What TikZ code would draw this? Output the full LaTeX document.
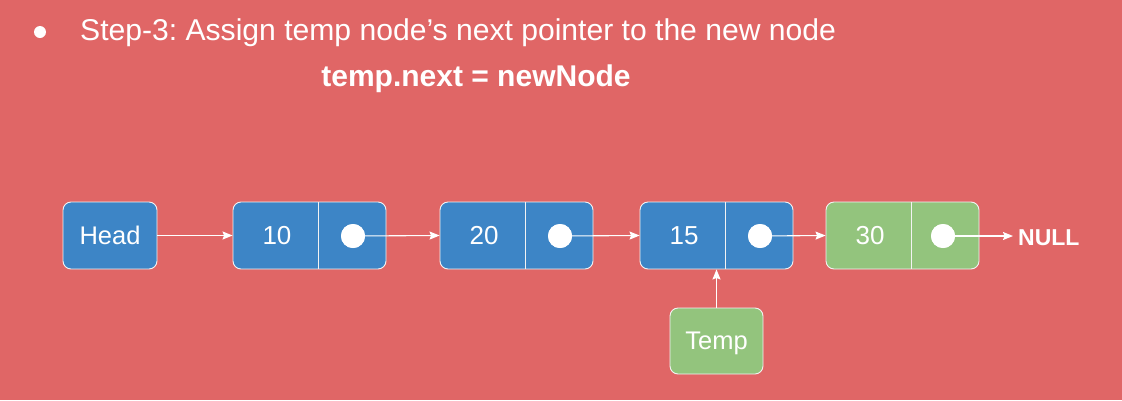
\documentclass[tikz,border=0pt]{standalone}
\usepackage{fontspec}
\setmainfont{Liberation Sans}
\usetikzlibrary{arrows.meta}
\definecolor{bg}{HTML}{E06666}
\definecolor{nblue}{HTML}{3D85C6}
\definecolor{ngreen}{HTML}{93C47D}
\definecolor{edge}{HTML}{F3F3F3}
\tikzset{
  box/.style={draw=edge, line width=0.9pt, rounded corners=8pt, inner sep=0pt, text=white, text depth=0pt, font=\fontsize{25.5}{28}\selectfont},
  listbox/.style={box, minimum width=153pt, minimum height=67pt},
  numtext/.style={text=white, font=\fontsize{26}{28}\selectfont},
  dot/.style={circle, fill=white, inner sep=0pt, minimum size=24pt},
  divider/.style={draw=edge, line width=0.9pt},
  arr/.style={draw=white, line width=1.1pt, -{Stealth[length=10pt,width=8pt,inset=1.5pt]}}
}
\begin{document}
\frenchspacing
\begin{tikzpicture}[x=1pt,y=-1pt]
\useasboundingbox[fill=bg] (0,0) rectangle (1122,400);
% title
\node[circle, fill=white, inner sep=0pt, minimum size=12pt] (bullet) at (40,32) {};
\node[anchor=base west, text=white, font=\fontsize{30.1}{34}\selectfont, inner sep=0pt] (title) at (80,40) {Step-3: Assign temp node’s next pointer to the new node};
\node[anchor=base, text=white, font=\bfseries\fontsize{30}{34}\selectfont, inner sep=0pt] (code) at (476,86) {temp.next = newNode};
% head
\node[box, fill=nblue, minimum width=94pt, minimum height=67pt] (head) at (110,235.5) {Head};
% list nodes
\node[listbox, fill=nblue] (n10) at (309.5,235.5) {};
\draw[divider] (318,202) -- (318,269);
\node[numtext] (t10) at (277,235.5) {10};
\node[dot] (c10) at (353,236) {};

\node[listbox, fill=nblue] (n20) at (516.5,235.5) {};
\draw[divider] (525,202) -- (525,269);
\node[numtext] (t20) at (484,235.5) {20};
\node[dot] (c20) at (560,236) {};

\node[listbox, fill=nblue] (n15) at (716.5,235.5) {};
\draw[divider] (725,202) -- (725,269);
\node[numtext] (t15) at (684,235.5) {15};
\node[dot] (c15) at (760,236) {};

\node[listbox, fill=ngreen] (n30) at (902.5,235.5) {};
\draw[divider] (911,202) -- (911,269);
\node[numtext] (t30) at (870,235.5) {30};
\node[dot] (c30) at (943,236) {};

\node[anchor=west, text=white, font=\bfseries\fontsize{23}{26}\selectfont, inner sep=0pt] (null) at (1018,238) {NULL};

% temp
\node[box, fill=ngreen, minimum width=93pt, minimum height=66pt] (temp) at (716.5,341) {Temp};

% arrows
\draw[arr] (head.east) -- (n10.west);
\draw[arr] (c10.center) -- (n20.west);
\draw[arr] (c20.center) -- (n15.west);
\draw[arr] (c15.center) -- (n30.west);
\draw[arr, shorten >=5pt] (c30.center) -- (null.west |- c30.center);
\draw[arr] (temp.north) -- (n15.south -| temp.north);
% redraw dots above arrow starts
\fill[white] (c10) circle (12pt) (c20) circle (12pt) (c15) circle (12pt) (c30) circle (12pt);
\end{tikzpicture}
\end{document}
